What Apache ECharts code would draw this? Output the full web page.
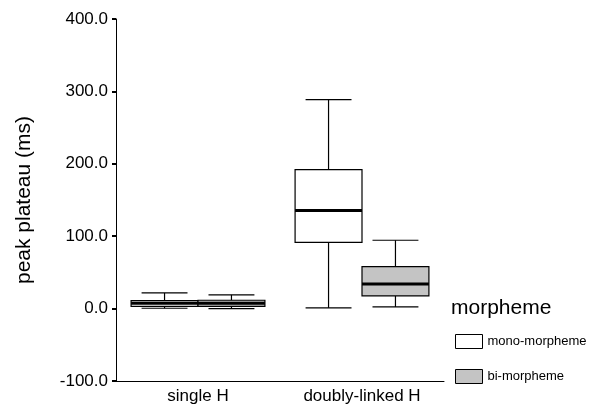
<!DOCTYPE html>
<html>
<head>
<meta charset="utf-8">
<script src="https://cdn.jsdelivr.net/npm/echarts@6/dist/echarts.min.js"></script>
<style>
  html, body { margin: 0; padding: 0; background: #fff; }
  #chart { width: 600px; height: 406px; }
</style>
</head>
<body>
<div id="chart"></div>
<script>
// categories on the x axis
var categories = ['single H', 'doubly-linked H'];
var groups = ['mono-morpheme', 'bi-morpheme'];
// [min, q1, median, q3, max] per category
var monoStats = [[0.5, 3.2, 7.4, 11.0, 21.6], [1.0, 91.6, 135.4, 192.0, 288.7]];
var biStats = [[0.0, 3.2, 7.4, 11.5, 19.0], [2.3, 17.5, 34.0, 58.0, 94.4]];
var yTicks = [-100, 0, 100, 200, 300, 400];

var fontName = 'Arial, "Liberation Sans", sans-serif';

function toRows(stats) {
	var rows = [];
	for (var i = 0; i < stats.length; i++) {
		rows.push([i].concat(stats[i]));
	}
	return rows;
}

// draws one box with whiskers, shifted left or right inside the category band
function boxRenderer(side, fill) {
	return function (params, api) {
		var cat = api.value(0);
		var band = api.size([1, 0])[0];
		var cx = api.coord([cat, 0])[0] + band * 0.204 * side;
		var half = band * 0.204;
		var cap = band * 0.14;
		var yMin = api.coord([cat, api.value(1)])[1];
		var yQ1 = api.coord([cat, api.value(2)])[1];
		var yMed = api.coord([cat, api.value(3)])[1];
		var yQ3 = api.coord([cat, api.value(4)])[1];
		var yMax = api.coord([cat, api.value(5)])[1];
		var thin = { stroke: '#000', lineWidth: 1.2 };
		return {
			type: 'group',
			children: [
				{ type: 'line', shape: { x1: cx, y1: yMax, x2: cx, y2: yQ3 }, style: thin },
				{ type: 'line', shape: { x1: cx, y1: yQ1, x2: cx, y2: yMin }, style: thin },
				{ type: 'line', shape: { x1: cx - cap, y1: yMax, x2: cx + cap, y2: yMax }, style: thin },
				{ type: 'line', shape: { x1: cx - cap, y1: yMin, x2: cx + cap, y2: yMin }, style: thin },
				{ type: 'rect', shape: { x: cx - half, y: yQ3, width: half * 2, height: yQ1 - yQ3 },
					style: { fill: fill, stroke: '#000', lineWidth: 1.2 } },
				{ type: 'line', shape: { x1: cx - half, y1: yMed, x2: cx + half, y2: yMed },
					style: { stroke: '#000', lineWidth: 3 } }
			]
		};
	};
}

var chart = echarts.init(document.getElementById('chart'));
var option = {
	animation: false,
	textStyle: { fontFamily: fontName },
	title: {
		text: 'morpheme',
		left: 451,
		top: 298,
		padding: 0,
		textStyle: { fontSize: 21, fontWeight: 'normal', color: '#000', fontFamily: fontName }
	},
	legend: {
		orient: 'vertical',
		left: 455,
		top: 334,
		padding: 0,
		itemWidth: 27,
		itemHeight: 14,
		itemGap: 20,
		textStyle: { fontSize: 13, color: '#000', fontFamily: fontName },
		data: [
			{ name: groups[0], icon: 'rect', itemStyle: { color: '#fff', borderColor: '#000', borderWidth: 1 } },
			{ name: groups[1], icon: 'rect', itemStyle: { color: '#c4c4c4', borderColor: '#000', borderWidth: 1 } }
		]
	},
	grid: { left: 116, right: 156, top: 19, bottom: 25 },
	xAxis: {
		type: 'category',
		data: categories,
		axisLine: { onZero: false, lineStyle: { color: '#000', width: 1 } },
		axisTick: { alignWithLabel: true, length: 3, lineStyle: { color: '#000', width: 2 } },
		axisLabel: { fontSize: 17, color: '#000', margin: 7 },
		splitLine: { show: false }
	},
	yAxis: {
		type: 'value',
		min: yTicks[0],
		max: yTicks[yTicks.length - 1],
		interval: 100,
		name: 'peak plateau (ms)',
		nameLocation: 'middle',
		nameGap: 81,
		nameTextStyle: { fontSize: 21, color: '#000' },
		axisLine: { show: true, lineStyle: { color: '#000', width: 1 } },
		axisTick: { show: true, length: 4, lineStyle: { color: '#000', width: 2 } },
		axisLabel: {
			fontSize: 17,
			color: '#000',
			margin: 8,
			formatter: function (v) { return v.toFixed(1); }
		},
		splitLine: { show: false }
	},
	series: [
		{
			name: groups[0],
			type: 'custom',
			renderItem: boxRenderer(-1, '#fff'),
			itemStyle: { color: '#fff', borderColor: '#000' },
			encode: { x: 0, y: [1, 2, 3, 4, 5] },
			data: toRows(monoStats)
		},
		{
			name: groups[1],
			type: 'custom',
			renderItem: boxRenderer(1, '#c4c4c4'),
			itemStyle: { color: '#c4c4c4', borderColor: '#000' },
			encode: { x: 0, y: [1, 2, 3, 4, 5] },
			data: toRows(biStats)
		}
	]
};
chart.setOption(option);
</script>
</body>
</html>
